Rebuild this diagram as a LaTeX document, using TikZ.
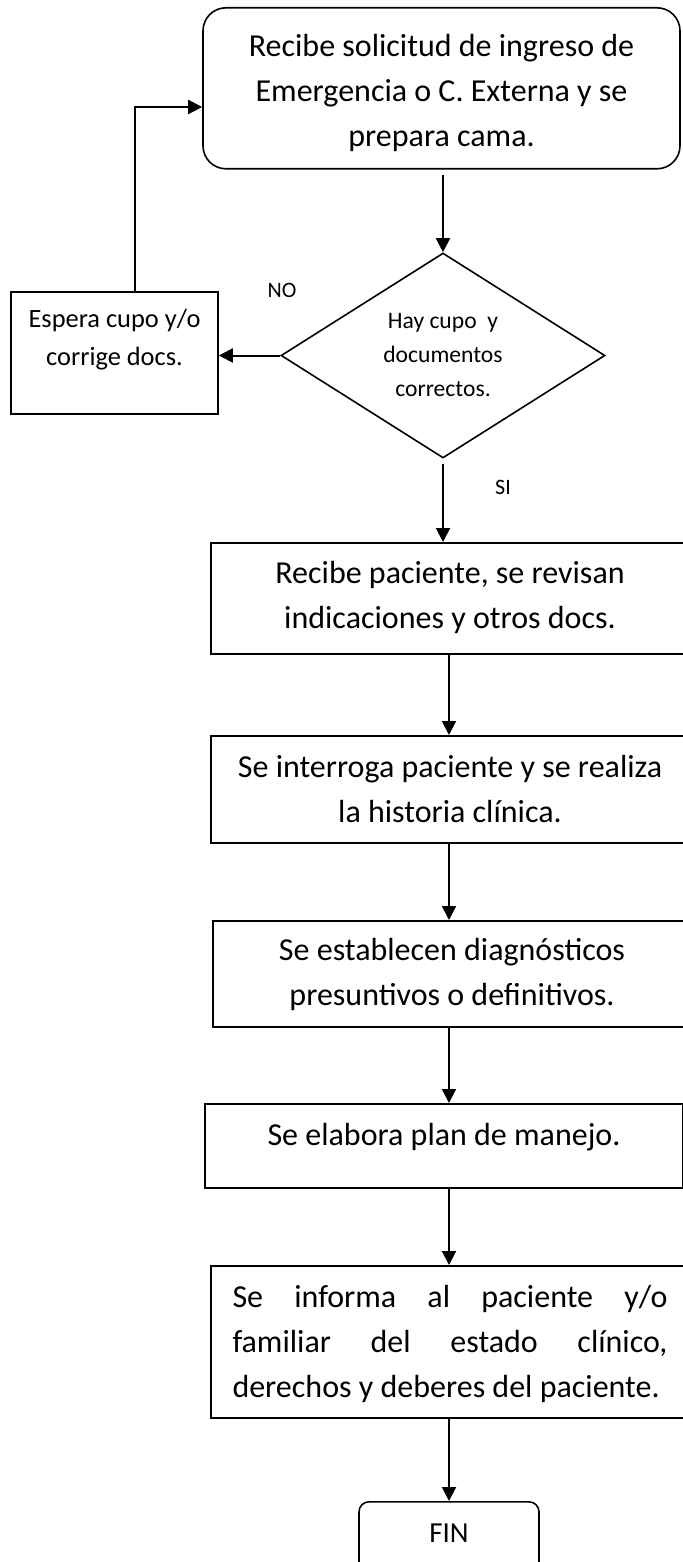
\documentclass[tikz,border=0pt]{standalone}
\usepackage{fontspec}
\setmainfont{Carlito}
\usetikzlibrary{positioning, arrows.meta, shapes.geometric}
\hbadness=10000

\begin{document}
\begin{tikzpicture}[
            x=0.5pt, y=-0.5pt,
            caja/.style={draw, line width=0.8pt, anchor=north, inner ysep=0pt, align=center,
                         minimum width=239pt, font=\fontsize{16}{22.5}\selectfont},
            inicio/.style={caja, rounded corners=11.5pt},
            decision/.style={diamond, draw, line width=0.8pt, aspect=1.58, inner sep=0pt,
                             minimum width=162pt, minimum height=102.5pt, align=center,
                             font=\fontsize{11.8}{17}\selectfont},
            etiqueta/.style={font=\fontsize{11}{13}\selectfont},
            flecha/.style={draw, line width=1pt, -{Triangle[length=7pt, width=7pt]}}
            ]
        \useasboundingbox (0,0) rectangle (682,1562);

        \node[inicio, minimum width=238.5pt, text height=69.5pt, text depth=11pt] (sol) at (441.5,7)
            {Recibe solicitud de ingreso de\\Emergencia o C. Externa y se\\prepara cama.};
        \node[decision] (dec) at (443,355.5) {Hay cupo~ y\\documentos\\correctos.};
        \node[caja, minimum width=103.5pt, font=\fontsize{13.2}{19}\selectfont,
              text height=37pt, text depth=24pt] (esp) at (114.5,291)
            {Espera cupo y/o\\corrige docs.};
        \node[caja, text height=43pt, text depth=12.5pt] (b2) at (450,542)
            {Recibe paciente, se revisan\\indicaciones y otros docs.};
        \node[caja, text height=43.5pt, text depth=10pt] (b3) at (450,735)
            {Se interroga paciente y se realiza\\la historia clínica.};
        \node[caja, text height=42.5pt, text depth=10.5pt] (b4) at (452,920)
            {Se establecen diagnósticos\\presuntivos o definitivos.};
        \node[caja, text height=21pt, text depth=21pt] (b5) at (444,1103)
            {Se elabora plan de manejo.};
        \node[caja, text width=217.5pt, inner xsep=10.5pt, align=justify,
              text height=21pt, text depth=55pt] (b6) at (450,1265)
            {Se informa al paciente y/o\linebreak familiar del estado clínico,\linebreak
             derechos y deberes del paciente.};
        \node[caja, rounded corners=5pt, minimum width=90pt, font=\fontsize{14.5}{16}\selectfont,
              text height=20.5pt, text depth=20pt] (fin) at (449,1501) {FIN};

        \node[etiqueta] (no) at (282,290) {NO};
        \node[etiqueta] (si) at (503,487) {SI};
        \coordinate (vuelta) at (135,107);

        % Flechas
        \draw[flecha, shorten <=2.5pt] (sol.south -| dec) -- (dec);
        \draw[flecha] (dec.west) -- (dec.west -| esp.east);
        \draw[flecha] (esp.north -| vuelta) -- (vuelta) -- (vuelta -| sol.west);
        \draw[flecha, shorten <=2.5pt] (dec.south) -- (dec.south |- b2.north);
        \draw[flecha] (b2.south -| fin) -- (b3.north -| fin);
        \draw[flecha] (b3.south -| fin) -- (b4.north -| fin);
        \draw[flecha] (b4.south -| fin) -- (b5.north -| fin);
        \draw[flecha] (b5.south -| fin) -- (b6.north -| fin);
        \draw[flecha] (b6.south -| fin) -- (fin);
\end{tikzpicture}
\end{document}
